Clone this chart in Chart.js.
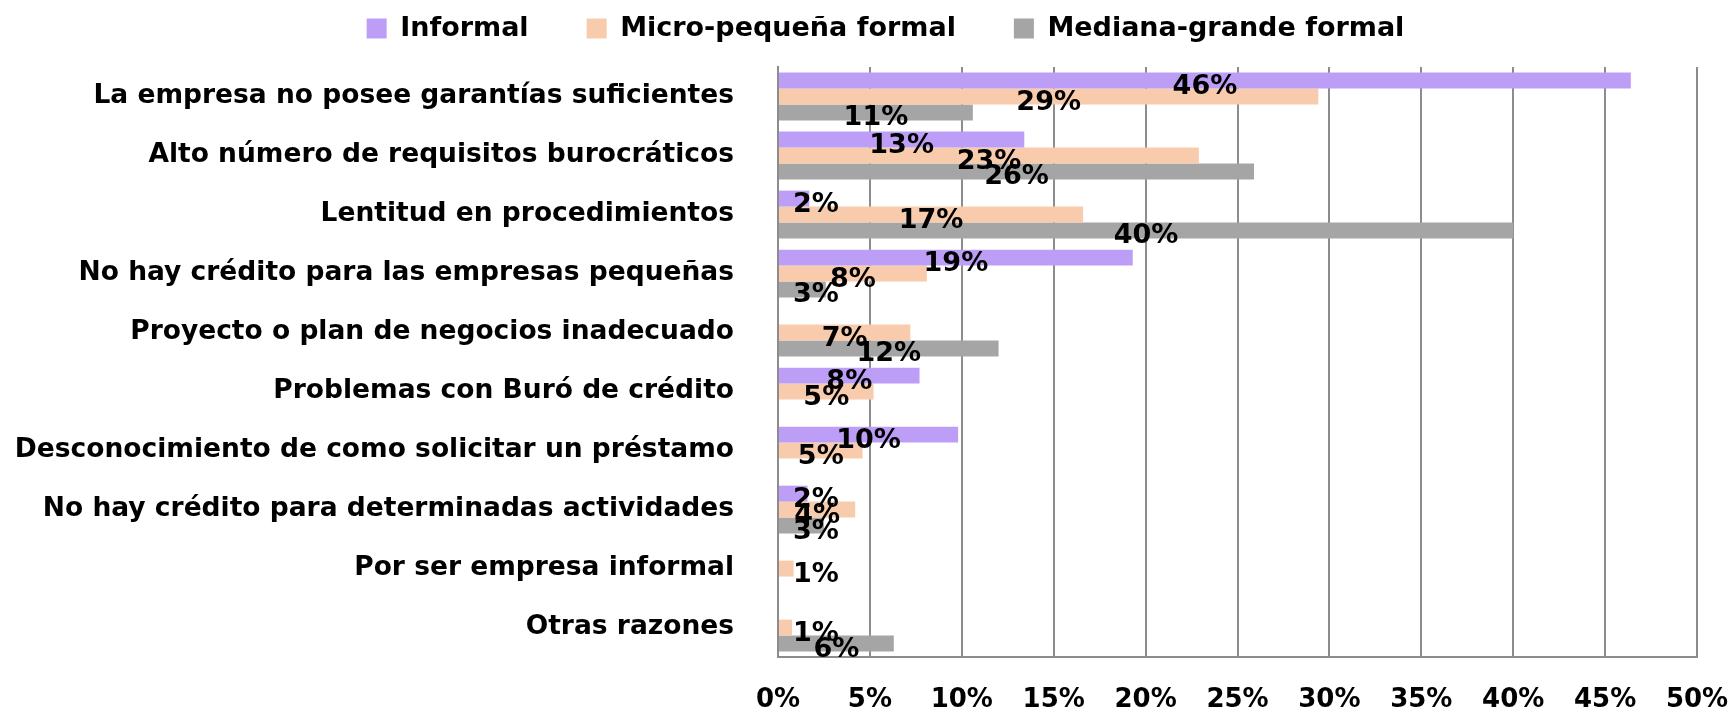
<!DOCTYPE html>
<html>
<head>
<meta charset="utf-8">
<script src="https://cdn.jsdelivr.net/npm/chart.js@4/dist/chart.umd.min.js"></script>
<style>
html,body{margin:0;padding:0;background:#fff;}
#wrap{width:1736px;height:709px;}
</style>
</head>
<body>
<div id="wrap"><canvas id="grafico" width="1736" height="709"></canvas></div>
<script>
const categorias = [
"La empresa no posee garantías suficientes",
"Alto número de requisitos burocráticos",
"Lentitud en procedimientos",
"No hay crédito para las empresas pequeñas",
"Proyecto o plan de negocios inadecuado",
"Problemas con Buró de crédito",
"Desconocimiento de como solicitar un préstamo",
"No hay crédito para determinadas actividades",
"Por ser empresa informal",
"Otras razones"
];

const informal = [46.4, 13.4, 1.7, 19.3, null, 7.7, 9.8, 1.6, null, null];
const microPequena = [29.4, 22.9, 16.6, 8.1, 7.2, 5.2, 4.6, 4.2, 0.85, 0.76];
const medianaGrande = [10.6, 25.9, 40.0, 2.6, 12.0, null, null, 2.5, null, 6.3];

const series = ["Informal", "Micro-pequeña formal", "Mediana-grande formal"];
const colores = ["#bd9ef7", "#f8cbad", "#a5a5a5"];

const fuente = "'DejaVu Sans', sans-serif";

// etiquetas de porcentaje sobre cada barra
const etiquetas = {
id:"etiquetas",
afterLayout(chart){
// la leyenda del original está algo corrida a la derecha
chart.legend.left += 37;
chart.legend.right += 37;
},
afterDatasetsDraw(chart){
const ctx = chart.ctx;
const izq = chart.chartArea.left;
ctx.save();
ctx.font = "bold 27px " + fuente;
ctx.fillStyle = "#000";
ctx.textAlign = "center";
ctx.textBaseline = "middle";
chart.data.datasets.forEach((ds, i) => {
const meta = chart.getDatasetMeta(i);
meta.data.forEach((barra, j) => {
const v = ds.data[j];
if(v === null) return;
let x = (barra.base + barra.x) / 2;
if(x < izq + 38) x = izq + 38;
ctx.fillText(Math.round(v) + "%", x, barra.y + 6);
});
});
ctx.restore();
}
};

new Chart(document.getElementById("grafico"), {
type:"bar",
data:{
labels:categorias,
datasets:[
{ label:series[0], data:informal, backgroundColor:colores[0] },
{ label:series[1], data:microPequena, backgroundColor:colores[1] },
{ label:series[2], data:medianaGrande, backgroundColor:colores[2] }
]
},
options:{
indexAxis:"y",
responsive:false,
animation:false,
layout:{ padding:{ top:11, right:39, left:0, bottom:0 } },
datasets:{ bar:{ categoryPercentage:0.81, barPercentage:1 } },
plugins:{
tooltip:{ enabled:false },
legend:{
position:"top",
labels:{
font:{ family:fuente, size:27, weight:"bold" },
color:"#000",
boxWidth:20,
boxHeight:20,
padding:4,
// espacio extra entre elementos de la leyenda
generateLabels(chart){
const items = Chart.defaults.plugins.legend.labels.generateLabels(chart);
items.forEach((it, i) => {
if(i < items.length - 1) it.text = it.text + "\u2003\u2003";
});
return items;
}
}
}
},
scales:{
x:{
min:0,
max:50,
ticks:{
stepSize:5,
callback:v => v + "%",
font:{ family:fuente, size:26, weight:"bold" },
color:"#000",
padding:28
},
grid:{ color:"#8c8c8c", lineWidth:2, drawTicks:false },
border:{ color:"#8c8c8c", width:2 },
afterFit(s){ s.height = 50; s.paddingLeft = 0; s.paddingRight = 0; }
},
// eje vacío solo para dejar espacio bajo la leyenda
separador:{
position:"top",
type:"linear",
ticks:{ display:false },
grid:{ display:false },
border:{ display:false },
afterFit(s){ s.height = 15; s.paddingLeft = 0; s.paddingRight = 0; }
},
y:{
ticks:{
font:{ family:fuente, size:26.5, weight:"bold" },
color:"#000",
padding:36
},
grid:{ display:false },
border:{ color:"#8c8c8c", width:2 },
afterFit(s){ s.width = 778; }
}
}
},
plugins:[etiquetas]
});
</script>
</body>
</html>
